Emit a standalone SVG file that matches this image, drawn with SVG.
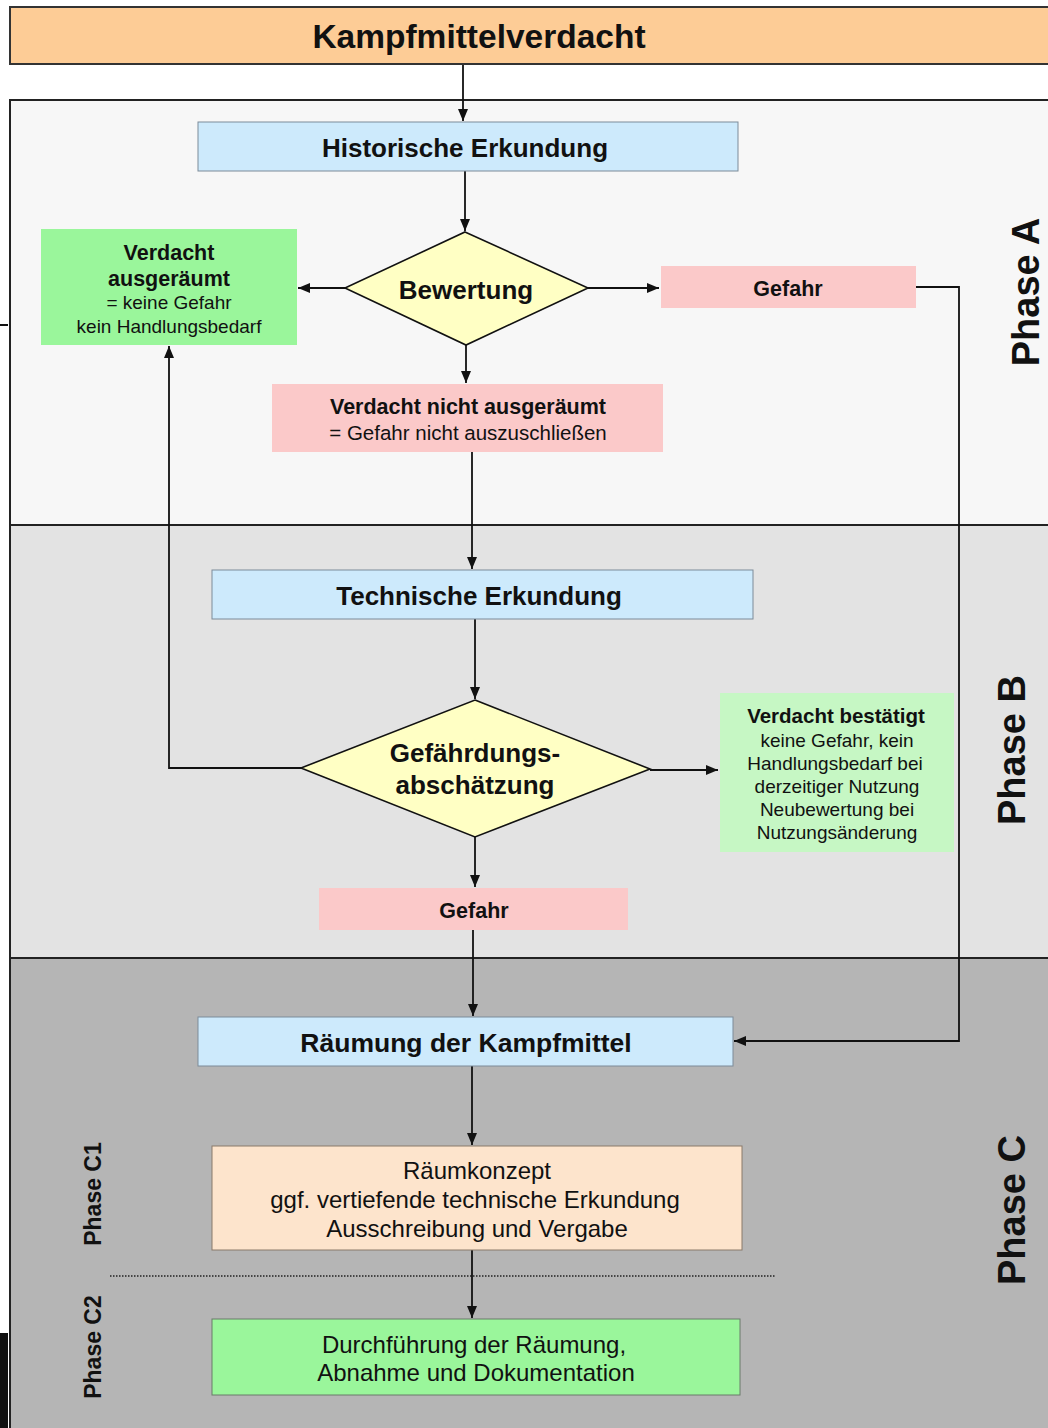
<svg xmlns="http://www.w3.org/2000/svg" width="1048" height="1428" viewBox="0 0 1048 1428">
<style>
text{font-family:"Liberation Sans",Arial,sans-serif;fill:#111;text-anchor:middle}
.b{font-weight:bold}
.t26{font-size:26px;font-weight:bold}
.t21{font-size:21.5px;font-weight:bold}
.r19{font-size:19px}
.r24{font-size:24px}
.ph{font-size:38px;font-weight:bold}
.phs{font-size:23px;font-weight:bold}
.blue{fill:#cdeafc;stroke:#7d8b99;stroke-width:1}
.dia{fill:#ffffc4;stroke:#111;stroke-width:1.6}
.pink{fill:#fbc9c9}
.green{fill:#9af69b}
.lgreen{fill:#c6f7c4}
.edge{fill:none;stroke:#111;stroke-width:1.8}
.sep{stroke:#222;stroke-width:2}
</style>
<defs>
<marker id="ah" viewBox="0 0 12 10" refX="12" refY="5" markerWidth="12" markerHeight="10" markerUnits="userSpaceOnUse" orient="auto">
<path d="M0,0 L12,5 L0,10 Z" fill="#111"/>
</marker>
</defs>
<rect width="1048" height="1428" fill="#ffffff"/>
<g id="panels">
<rect x="10" y="100" width="1050" height="425" fill="#f7f7f7"/>
<rect x="10" y="525" width="1050" height="433" fill="#e3e3e3"/>
<rect x="10" y="958" width="1050" height="480" fill="#b5b5b5"/>
<line class="sep" x1="10" y1="100" x2="1048" y2="100"/>
<line class="sep" x1="10" y1="525" x2="1048" y2="525"/>
<line class="sep" x1="10" y1="958" x2="1048" y2="958"/>
<line class="sep" x1="10" y1="99" x2="10" y2="1428"/>
<line x1="110" y1="1276" x2="775" y2="1276" stroke="#222" stroke-width="1.6" stroke-dasharray="1.5,1.5"/>
</g>
<g id="artifacts">
<line x1="0" y1="325" x2="8" y2="325" stroke="#111" stroke-width="2"/>
<rect x="0" y="1333" width="8" height="95" fill="#111"/>
</g>
<g id="phase-labels">
<text class="ph" transform="translate(1026,292) rotate(-90)" y="13">Phase A</text>
<text class="ph" transform="translate(1012,750) rotate(-90)" y="13">Phase B</text>
<text class="ph" transform="translate(1012,1210) rotate(-90)" y="13">Phase C</text>
<text class="phs" transform="translate(93,1194) rotate(-90)" y="8">Phase C1</text>
<text class="phs" transform="translate(93,1347) rotate(-90)" y="8">Phase C2</text>
</g>
<g id="connectors">
<line class="edge" x1="463" y1="64" x2="463" y2="121" marker-end="url(#ah)"/>
<line class="edge" x1="465" y1="171" x2="465" y2="231" marker-end="url(#ah)"/>
<line class="edge" x1="345" y1="288" x2="298" y2="288" marker-end="url(#ah)"/>
<line class="edge" x1="588" y1="288" x2="659" y2="288" marker-end="url(#ah)"/>
<line class="edge" x1="466" y1="345" x2="466" y2="383" marker-end="url(#ah)"/>
<line class="edge" x1="472" y1="452" x2="472" y2="569" marker-end="url(#ah)"/>
<line class="edge" x1="475" y1="619" x2="475" y2="699" marker-end="url(#ah)"/>
<polyline class="edge" points="301,768 169,768 169,346" marker-end="url(#ah)"/>
<line class="edge" x1="650" y1="770" x2="718" y2="770" marker-end="url(#ah)"/>
<line class="edge" x1="475" y1="837" x2="475" y2="887" marker-end="url(#ah)"/>
<line class="edge" x1="473" y1="930" x2="473" y2="1016" marker-end="url(#ah)"/>
<polyline class="edge" points="916,287 959,287 959,1041 734,1041" marker-end="url(#ah)"/>
<line class="edge" x1="472" y1="1066" x2="472" y2="1145" marker-end="url(#ah)"/>
<line class="edge" x1="472" y1="1250" x2="472" y2="1318" marker-end="url(#ah)"/>
</g>
<g id="kampfmittelverdacht">
<rect x="10" y="7" width="1050" height="57" fill="#fdcc96" stroke="#333" stroke-width="2"/>
<text x="479" y="48" style="font-size:33.5px;font-weight:bold">Kampfmittelverdacht</text>
</g>
<g id="historische-erkundung">
<rect class="blue" x="198" y="122" width="540" height="49"/>
<text class="t26" x="465" y="157">Historische Erkundung</text>
</g>
<g id="bewertung">
<polygon class="dia" points="465,232 588,288 466,345 345,288"/>
<text class="t26" x="466" y="299">Bewertung</text>
</g>
<g id="verdacht-ausgeraeumt">
<rect class="green" x="41" y="229" width="256" height="116"/>
<text class="t21" x="169" y="260">Verdacht</text>
<text class="t21" x="169" y="286">ausgeräumt</text>
<text class="r19" x="169" y="309">= keine Gefahr</text>
<text class="r19" x="169" y="333">kein Handlungsbedarf</text>
</g>
<g id="gefahr-a">
<rect class="pink" x="661" y="266" width="255" height="42"/>
<text class="t21" x="788" y="296">Gefahr</text>
</g>
<g id="verdacht-nicht-ausgeraeumt">
<rect class="pink" x="272" y="384" width="391" height="68"/>
<text class="t21" x="468" y="414">Verdacht nicht ausgeräumt</text>
<text class="r19" x="468" y="440" style="font-size:20.5px">= Gefahr nicht auszuschließen</text>
</g>
<g id="technische-erkundung">
<rect class="blue" x="212" y="570" width="541" height="49"/>
<text class="t26" x="479" y="605">Technische Erkundung</text>
</g>
<g id="gefaehrdungsabschaetzung">
<polygon class="dia" points="475,700 650,769 475,837 301,768"/>
<text class="t26" x="475" y="762">Gefährdungs-</text>
<text class="t26" x="475" y="794">abschätzung</text>
</g>
<g id="verdacht-bestaetigt">
<rect class="lgreen" x="720" y="693" width="234" height="159"/>
<text class="t21" x="836" y="723" style="font-size:20.5px">Verdacht bestätigt</text>
<text class="r19" x="837" y="747">keine Gefahr, kein</text>
<text class="r19" x="835" y="770">Handlungsbedarf bei</text>
<text class="r19" x="837" y="793">derzeitiger Nutzung</text>
<text class="r19" x="837" y="816">Neubewertung bei</text>
<text class="r19" x="837" y="839">Nutzungsänderung</text>
</g>
<g id="gefahr-b">
<rect class="pink" x="319" y="888" width="309" height="42"/>
<text class="t21" x="474" y="918">Gefahr</text>
</g>
<g id="raeumung">
<rect class="blue" x="198" y="1017" width="535" height="49"/>
<text class="t26" x="466" y="1052" style="font-size:26.5px">Räumung der Kampfmittel</text>
</g>
<g id="raeumkonzept">
<rect x="212" y="1146" width="530" height="104" fill="#fde4cc" stroke="#8a7a6a" stroke-width="1"/>
<text class="r24" x="477" y="1179">Räumkonzept</text>
<text class="r24" x="475" y="1208">ggf. vertiefende technische Erkundung</text>
<text class="r24" x="477" y="1237">Ausschreibung und Vergabe</text>
</g>
<g id="durchfuehrung">
<rect class="green" x="212" y="1319" width="528" height="76" stroke="#6a7a6a" stroke-width="1"/>
<text class="r24" x="474" y="1353">Durchführung der Räumung,</text>
<text class="r24" x="476" y="1381">Abnahme und Dokumentation</text>
</g>
</svg>
